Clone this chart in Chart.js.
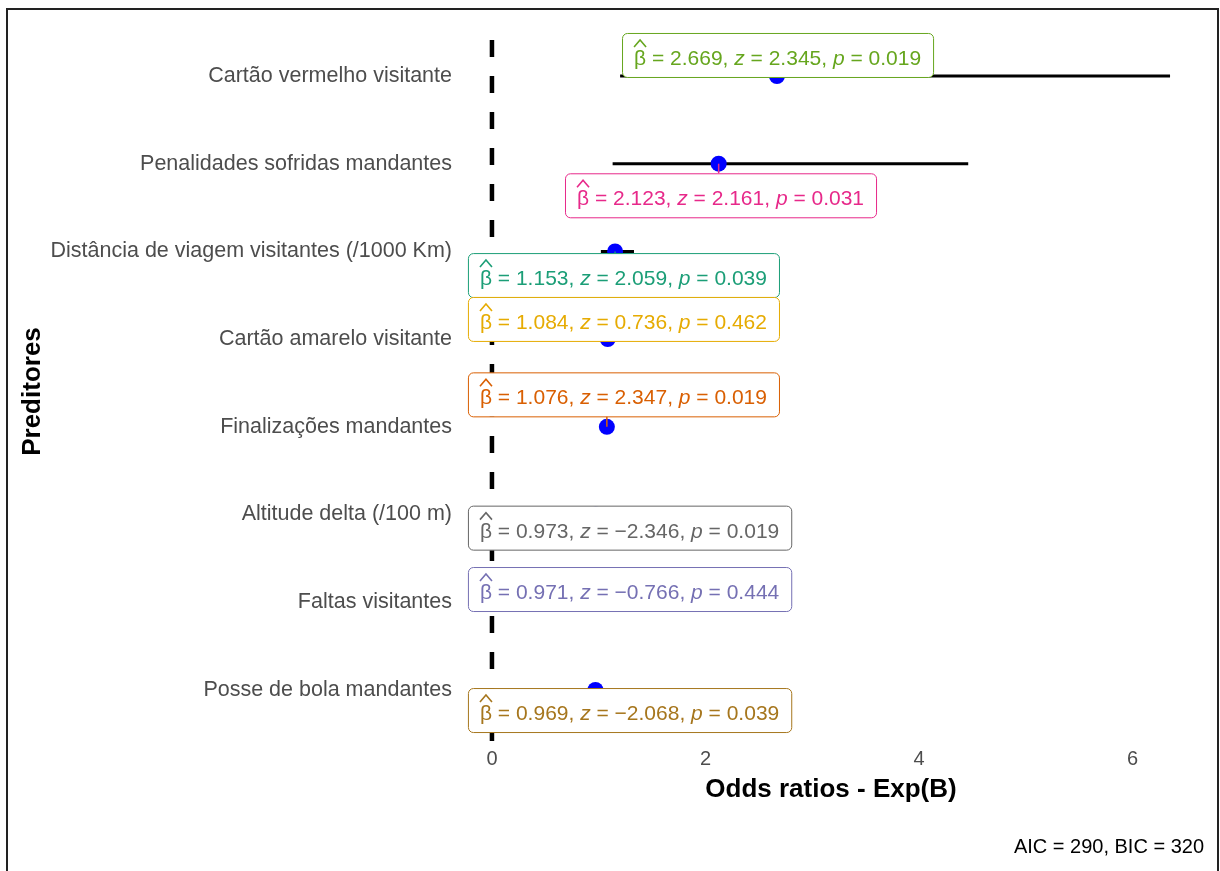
<!DOCTYPE html>
<html>
<head>
<meta charset="utf-8">
<script src="https://cdn.jsdelivr.net/npm/chart.js@4"></script>
<style>
  html, body { margin: 0; padding: 0; background: #fff; }
</style>
</head>
<body>
<canvas id="chart" width="1220" height="871"></canvas>
<script>
// predictors, top to bottom
const predictors = [
    "Cartão vermelho visitante",
    "Penalidades sofridas mandantes",
    "Distância de viagem visitantes (/1000 Km)",
    "Cartão amarelo visitante",
    "Finalizações mandantes",
    "Altitude delta (/100 m)",
    "Faltas visitantes",
    "Posse de bola mandantes",
];
const oddsRatios = [2.669, 2.123, 1.153, 1.084, 1.076, 0.973, 0.971, 0.969];
const ciLow = [1.20, 1.13, 1.02, 0.87, 1.01, 0.95, 0.90, 0.94];
const ciHigh = [6.35, 4.46, 1.33, 1.34, 1.14, 0.996, 1.05, 0.998];
const zValues = ["2.345", "2.161", "2.059", "0.736", "2.347", "\u22122.346", "\u22120.766", "\u22122.068"];
const pValues = ["0.019", "0.031", "0.039", "0.462", "0.019", "0.019", "0.444", "0.039"];
const xTicks = [0, 2, 4, 6];
const captionText = "AIC = 290, BIC = 320";

const LABEL_COLORS = ["#66A61E", "#E7298A", "#1B9E77", "#E6AB02", "#D95F02", "#666666", "#7570B3", "#A6761D"];
// where the repelled labels ended up (left edge in x units, shift in row units)
const labelLeft = [1.218, 0.684, -0.225, -0.225, -0.225, -0.225, -0.225, -0.225];
const labelShift = [0.24, -0.36, -0.27, 0.23, 0.37, -0.15, 0.15, -0.23];

const FONT = '"Liberation Sans", Arial, sans-serif';
const LBL = "21px " + FONT;
const LBL_IT = "italic 21px " + FONT;
const rowY = (i) => predictors.length - i;

const ciSets = predictors.map((name, i) => ({
    label: name,
    data: [{ x: ciLow[i], y: rowY(i) }, { x: ciHigh[i], y: rowY(i) }],
    showLine: true,
    borderColor: "#000",
    borderWidth: 3,
    pointRadius: 0,
    order: 2,
}));

const pointSet = {
    label: "Odds ratio",
    data: oddsRatios.map((v, i) => ({ x: v, y: rowY(i) })),
    pointRadius: 8,
    pointBackgroundColor: "#0000FF",
    pointBorderWidth: 0,
    order: 1,
};

// dashed line at zero
const zeroLine = {
    id: "zeroLine",
    beforeDatasetsDraw(chart) {
        const { ctx, chartArea, scales } = chart;
        const x = scales.x.getPixelForValue(0);
        ctx.save();
        ctx.strokeStyle = "#000";
        ctx.lineWidth = 4.5;
        ctx.setLineDash([17, 19]);
        ctx.lineDashOffset = 33;
        ctx.beginPath();
        ctx.moveTo(x, chartArea.top);
        ctx.lineTo(x, chartArea.bottom);
        ctx.stroke();
        ctx.restore();
    },
};

function labelParts(i) {
    return [
        { t: "\u03B2", f: LBL, hat: true },
        { t: " = " + oddsRatios[i].toFixed(3) + ", ", f: LBL },
        { t: "z", f: LBL_IT },
        { t: " = " + zValues[i] + ", ", f: LBL },
        { t: "p", f: LBL_IT },
        { t: " = " + pValues[i], f: LBL },
    ];
}

// ggrepel-like labels
const statLabels = {
    id: "statLabels",
    afterDatasetsDraw(chart) {
        const { ctx, scales } = chart;
        const pad = 12, boxH = 44;
        ctx.save();
        predictors.forEach((_, i) => {
            const parts = labelParts(i);
            let w = 0;
            parts.forEach((p) => { ctx.font = p.f; p.w = ctx.measureText(p.t).width; w += p.w; });
            const left = scales.x.getPixelForValue(labelLeft[i]);
            const cy = scales.y.getPixelForValue(rowY(i) + labelShift[i]);
            const top = cy - boxH / 2;
            const right = left + w + pad * 2;
            const col = LABEL_COLORS[i];

            // segment to the point
            const px = scales.x.getPixelForValue(oddsRatios[i]);
            const py = scales.y.getPixelForValue(rowY(i));
            const qx = Math.min(Math.max(px, left), right);
            const qy = Math.min(Math.max(py, top), top + boxH);
            if (Math.hypot(qx - px, qy - py) > 1) {
                ctx.strokeStyle = col;
                ctx.lineWidth = 1.5;
                ctx.beginPath();
                ctx.moveTo(px, py);
                ctx.lineTo(qx, qy);
                ctx.stroke();
            }

            ctx.beginPath();
            ctx.roundRect(left + 0.5, top + 0.5, right - left, boxH, 5);
            ctx.fillStyle = "#fff";
            ctx.fill();
            ctx.strokeStyle = col;
            ctx.lineWidth = 1;
            ctx.stroke();

            let x = left + pad;
            const base = top + 32;
            ctx.fillStyle = col;
            ctx.textBaseline = "alphabetic";
            ctx.textAlign = "left";
            parts.forEach((p) => {
                ctx.font = p.f;
                ctx.fillText(p.t, x, base);
                if (p.hat) {
                    const cx = x + p.w / 2;
                    ctx.strokeStyle = col;
                    ctx.lineWidth = 1.6;
                    ctx.beginPath();
                    ctx.moveTo(cx - 6, top + 14);
                    ctx.lineTo(cx, top + 7);
                    ctx.lineTo(cx + 6, top + 14);
                    ctx.stroke();
                }
                x += p.w;
            });
        });
        ctx.restore();
    },
};

// outer frame of the figure
const frame = {
    id: "frame",
    afterDraw(chart) {
        const { ctx } = chart;
        ctx.save();
        ctx.strokeStyle = "#222";
        ctx.lineWidth = 2;
        ctx.beginPath();
        ctx.moveTo(7, 875);
        ctx.lineTo(7, 9);
        ctx.lineTo(1218, 9);
        ctx.lineTo(1218, 875);
        ctx.stroke();
        ctx.restore();
    },
};

new Chart(document.getElementById("chart"), {
    type: "scatter",
    data: { datasets: [pointSet, ...ciSets] },
    options: {
        responsive: false,
        animation: false,
        layout: { padding: { top: 37, right: 16, bottom: 11.5, left: 0 } },
        plugins: {
            legend: { display: false },
            tooltip: { enabled: false },
            subtitle: {
                display: true,
                text: captionText,
                position: "bottom",
                align: "end",
                color: "#000",
                font: { family: FONT, size: 20, weight: "normal" },
                padding: 0,
            },
        },
        scales: {
            x: {
                type: "linear",
                min: -0.318,
                max: 6.668,
                grid: { display: false, drawTicks: false },
                border: { display: false },
                afterBuildTicks: (s) => { s.ticks = xTicks.map((v) => ({ value: v })); },
                afterFit: (s) => { s.height = 89.5; },
                ticks: {
                    color: "#4D4D4D",
                    padding: 1,
                    maxRotation: 0,
                    font: { family: FONT, size: 20 },
                },
                title: {
                    display: true,
                    text: "Odds ratios - Exp(B)",
                    color: "#000",
                    font: { family: FONT, size: 26, weight: "bold" },
                    padding: { top: 0, bottom: 30 },
                },
            },
            y: {
                type: "linear",
                min: 0.36,
                max: 8.445,
                grid: { display: false, drawTicks: false },
                border: { display: false },
                afterBuildTicks: (s) => { s.ticks = predictors.map((_, i) => ({ value: rowY(i) })); },
                afterFit: (s) => { s.width = 458; },
                ticks: {
                    color: "#4D4D4D",
                    padding: 6,
                    font: { family: FONT, size: 21.5 },
                    callback: (v) => predictors[predictors.length - v],
                },
                title: {
                    display: true,
                    text: "Preditores",
                    color: "#000",
                    font: { family: FONT, size: 26, weight: "bold" },
                    padding: { top: 17.4, bottom: 0 },
                },
            },
        },
    },
    plugins: [zeroLine, statLabels, frame],
});
</script>
</body>
</html>
